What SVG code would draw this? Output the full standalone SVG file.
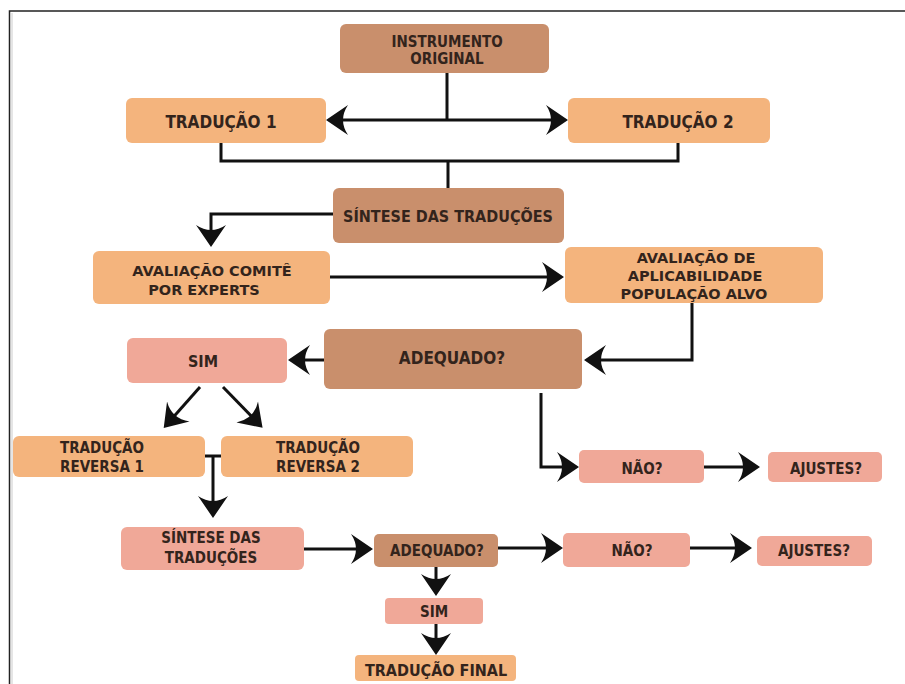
<svg xmlns="http://www.w3.org/2000/svg" width="905" height="684" viewBox="0 0 905 684">
<style>
.b{fill:#c98f6c}
.o{fill:#f4b47d}
.p{fill:#f0a898}
text{font-family:"DejaVu Sans Condensed","DejaVu Sans",sans-serif;font-stretch:condensed;font-weight:bold;fill:#33241c;text-anchor:middle}
.w{font-family:"DejaVu Sans",sans-serif;font-stretch:normal}
.c{fill:none;stroke:#111;stroke-width:3}
.a{marker-end:url(#ah)}
</style>
<defs>
<marker id="ah" viewBox="-14 -16 22 32" refX="0" refY="0" markerWidth="22" markerHeight="32" markerUnits="userSpaceOnUse" orient="auto-start-reverse">
<path d="M8,0 L-14,-15 Q-4,0 -14,15 Z" fill="#111"/>
</marker>
</defs>
<rect width="905" height="684" fill="#fff"/>
<path d="M9.5,684 V11 H905" fill="none" stroke="#222" stroke-width="1.5"/>
<path d="M12,684 V13" fill="none" stroke="#ddd" stroke-width="1.5"/>

<g id="connectors">
<path class="c" d="M447,73 V120"/>
<path class="c" d="M334,120 H560" marker-start="url(#ah)" marker-end="url(#ah)"/>
<path class="c" d="M221,142 V161 H678 V142 M448,161 V188"/>
<path class="c a" d="M333,214 H211 V239"/>
<path class="c a" d="M330,277 H556"/>
<path class="c a" d="M692,303 V360 H592"/>
<path class="c a" d="M324,360 H296"/>
<path class="c a" d="M200,387 L169,422"/>
<path class="c a" d="M223,387 L257,422"/>
<path class="c" d="M205,456 H222"/>
<path class="c a" d="M213,456 V510"/>
<path class="c a" d="M304,549 H365"/>
<path class="c a" d="M498,548 H555"/>
<path class="c a" d="M690,548 H744"/>
<path class="c a" d="M541,393 V467 H571"/>
<path class="c a" d="M704,467 H752"/>
<path class="c a" d="M436,567 V588"/>
<path class="c a" d="M436,624 V647"/>
</g>

<g id="instrumento"><rect class="b" x="340" y="24" width="209" height="49" rx="6"/>
<text x="447" y="47" font-size="15">INSTRUMENTO</text><text x="447" y="64" font-size="15">ORIGINAL</text></g>
<g id="traducao1"><rect class="o" x="126" y="98" width="200" height="45" rx="6"/>
<text x="221" y="128" font-size="17">TRADUÇÃO 1</text></g>
<g id="traducao2"><rect class="o" x="568" y="98" width="202" height="45" rx="6"/>
<text x="678" y="128" font-size="17">TRADUÇÃO 2</text></g>
<g id="sintese"><rect class="b" x="333" y="188" width="231" height="55" rx="6"/>
<text x="448" y="222" font-size="16">SÍNTESE DAS TRADUÇÕES</text></g>
<g id="avaliacao-comite"><rect class="o" x="93" y="251" width="237" height="53" rx="6"/>
<text class="w" x="212" y="276" font-size="14.5">AVALIAÇÃO COMITÊ</text><text class="w" x="204" y="295" font-size="14.5">POR EXPERTS</text></g>
<g id="avaliacao-aplicabilidade"><rect class="o" x="565" y="247" width="258" height="56" rx="6"/>
<text class="w" x="696" y="263" font-size="14.5">AVALIAÇÃO DE</text><text class="w" x="695" y="281" font-size="14.5">APLICABILIDADE</text><text class="w" x="694" y="299" font-size="14.5">POPULAÇÃO ALVO</text></g>
<g id="adequado1"><rect class="b" x="324" y="329" width="258" height="60" rx="6"/>
<text x="452" y="364" font-size="17">ADEQUADO?</text></g>
<g id="sim1"><rect class="p" x="127" y="338" width="160" height="45" rx="6"/>
<text x="203" y="367" font-size="16">SIM</text></g>
<g id="reversa1"><rect class="o" x="13" y="436" width="192" height="41" rx="6"/>
<text x="102" y="453" font-size="15">TRADUÇÃO</text><text x="102" y="472" font-size="15">REVERSA 1</text></g>
<g id="reversa2"><rect class="o" x="221" y="436" width="192" height="41" rx="6"/>
<text x="318" y="453" font-size="15">TRADUÇÃO</text><text x="318" y="472" font-size="15">REVERSA 2</text></g>
<g id="nao1"><rect class="p" x="579" y="450" width="125" height="33" rx="5"/>
<text x="642" y="474" font-size="15">NÃO?</text></g>
<g id="ajustes1"><rect class="p" x="768" y="452" width="114" height="30" rx="5"/>
<text x="826" y="474" font-size="15">AJUSTES?</text></g>
<g id="sintese2"><rect class="p" x="121" y="527" width="183" height="43" rx="6"/>
<text x="211" y="543" font-size="15">SÍNTESE DAS</text><text x="211" y="563" font-size="15">TRADUÇÕES</text></g>
<g id="adequado2"><rect class="b" x="374" y="534" width="124" height="33" rx="5"/>
<text x="437" y="556" font-size="15">ADEQUADO?</text></g>
<g id="nao2"><rect class="p" x="563" y="533" width="127" height="34" rx="5"/>
<text x="632" y="556" font-size="15">NÃO?</text></g>
<g id="ajustes2"><rect class="p" x="757" y="536" width="115" height="30" rx="5"/>
<text x="814" y="556" font-size="15">AJUSTES?</text></g>
<g id="sim2"><rect class="p" x="385" y="598" width="98" height="26" rx="4"/>
<text x="434" y="617" font-size="15">SIM</text></g>
<g id="final"><rect class="o" x="355" y="655" width="161" height="26" rx="4"/>
<text x="436" y="676" font-size="16">TRADUÇÃO FINAL</text></g>
</svg>
